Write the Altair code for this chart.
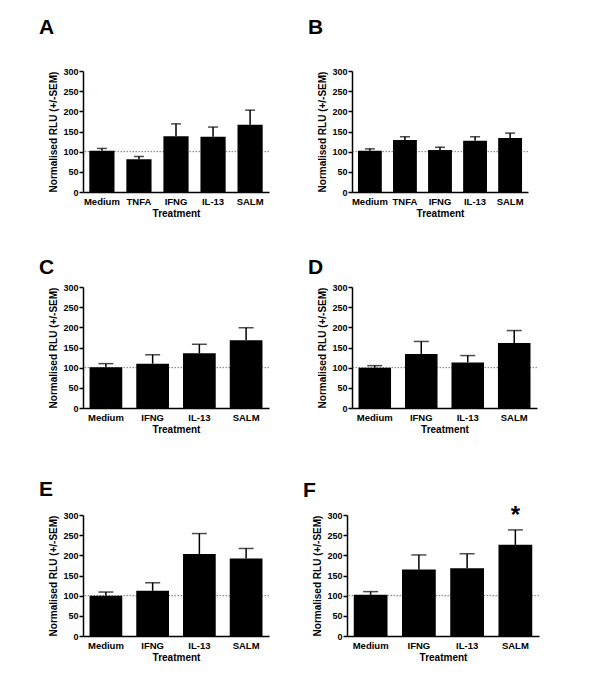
import altair as alt
import pandas as pd

# ---- data ----
letters = ["A", "B", "C", "D", "E", "F"]

treat_A = ["Medium", "TNFA", "IFNG", "IL-13", "SALM"]
mean_A = [102, 81, 138, 137, 167]
sem_A = [6, 7, 31, 24, 36]

treat_B = ["Medium", "TNFA", "IFNG", "IL-13", "SALM"]
mean_B = [102, 129, 104, 127, 134]
sem_B = [5, 8, 7, 10, 12]

treat_C = ["Medium", "IFNG", "IL-13", "SALM"]
mean_C = [101, 110, 136, 168]
sem_C = [9, 22, 22, 31]

treat_D = ["Medium", "IFNG", "IL-13", "SALM"]
mean_D = [100, 134, 113, 161]
sem_D = [5, 31, 17, 31]

treat_E = ["Medium", "IFNG", "IL-13", "SALM"]
mean_E = [100, 112, 203, 192]
sem_E = [9, 20, 51, 25]

treat_F = ["Medium", "IFNG", "IL-13", "SALM"]
mean_F = [102, 165, 168, 226]
sem_F = [8, 36, 36, 37]
star_F = ["", "", "", "*"]

y_ticks = [0, 50, 100, 150, 200, 250, 300]
ref_level = [100]

FONT = "Liberation Sans"
YTITLE = "Normalised RLU (+/-SEM)"


def panel(letter, treats, means, sems, width, cap, stars=None, toff=25):
    df = pd.DataFrame({
        "treatment": treats,
        "mean": means,
        "upper": [m + s for m, s in zip(means, sems)],
    })
    n = len(treats)
    pin, pout = (0.32, 0.17) if n == 5 else (0.3, 0.14)
    x = alt.X("treatment:N", sort=treats, title="Treatment",
              scale=alt.Scale(paddingInner=pin, paddingOuter=pout),
              axis=alt.Axis(labelAngle=0, ticks=False, labelPadding=4,
                            titlePadding=3, labelFontWeight="bold",
                            labelFontSize=9.5, titleFontWeight="bold"))
    yscale = alt.Scale(domain=[0, 300], nice=False)
    yaxis = alt.Axis(values=y_ticks, tickSize=4, titlePadding=4,
                     labelPadding=1, labelFontWeight="bold",
                     labelFontSize=9, titleFontWeight="bold",
                     labelOverlap=False)

    def Y(field):
        return alt.Y(field, scale=yscale, title=YTITLE, axis=yaxis)

    base = alt.Chart(df)
    ref = alt.Chart(pd.DataFrame({"ref": ref_level})).mark_rule(
        color="#555", strokeDash=[1.5, 1.5], strokeWidth=0.8
    ).encode(y=Y("ref:Q"))
    err = base.mark_rule(color="black", strokeWidth=1.5).encode(
        x=x, y=Y("mean:Q"), y2="upper:Q")
    caps = base.mark_tick(color="black", thickness=1.5, size=cap).encode(
        x=x, y=Y("upper:Q"))
    bars = base.mark_bar(color="black").encode(x=x, y=Y("mean:Q"))
    layers = [ref, err, caps, bars]
    if stars is not None:
        df2 = df.assign(star=stars)
        st = alt.Chart(df2).mark_text(
            font=FONT, fontWeight="bold", fontSize=24, baseline="middle",
            dy=-14, clip=False
        ).encode(x=x, y=Y("upper:Q"), text="star:N")
        layers.append(st)
    return alt.layer(*layers).properties(
        width=width, height=121,
        title=alt.TitleParams(letter, anchor="start", frame="group",
                              fontSize=21, fontWeight="bold", font=FONT,
                              dx=-44, offset=toff, color="black"),
    )


pA = panel("A", treat_A, mean_A, sem_A, 186, 10, toff=29)
pB = panel("B", treat_B, mean_B, sem_B, 176, 10, toff=29)
pC = panel("C", treat_C, mean_C, sem_C, 186, 15, toff=5)
pD = panel("D", treat_D, mean_D, sem_D, 185, 15, toff=5)
pE = panel("E", treat_E, mean_E, sem_E, 186, 15, toff=11)
pF = panel("F", treat_F, mean_F, sem_F, 192, 15, stars=star_F, toff=3)

chart = alt.vconcat(
    alt.vconcat(
        alt.hconcat(pA, pB, spacing=38),
        alt.hconcat(pC, pD, spacing=38),
        spacing=38,
    ),
    alt.hconcat(pE, pF, spacing=33),
    spacing=44,
).properties(
    padding={"left": 31, "top": 9, "right": 5, "bottom": 5}
).configure_view(strokeWidth=0, stroke="transparent").configure_axis(
    labelFont=FONT, labelFontWeight="bold", labelFontSize=9,
    labelColor="black", titleFont=FONT, titleFontWeight="bold",
    titleFontSize=10, titleColor="black", domainColor="black",
    domainWidth=1.5, tickColor="black", tickWidth=1.5, grid=False,
)

chart.save("out.html", embed_options={"renderer": "svg", "actions": False})
